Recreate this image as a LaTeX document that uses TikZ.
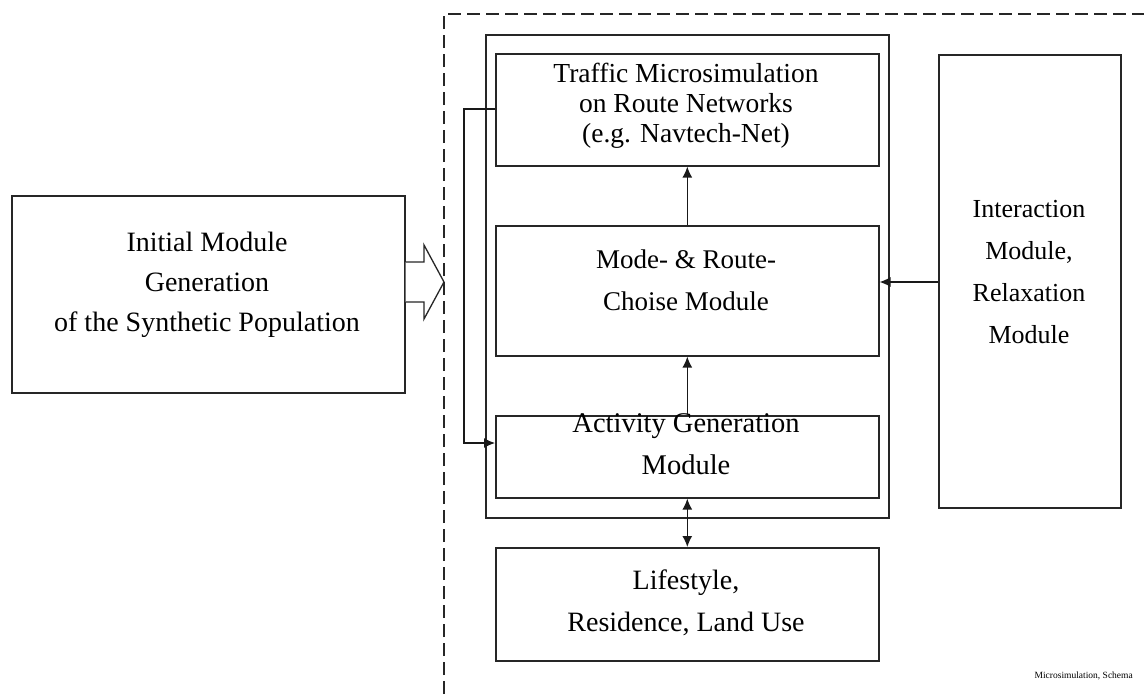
\documentclass[tikz,border=0pt]{standalone}
\usepackage{fontspec}
\setmainfont{Liberation Serif}
\usetikzlibrary{arrows.meta}
\begin{document}
\begin{tikzpicture}[x=1pt,y=1pt,
  box/.style={draw=black!85, line width=1.6pt, inner sep=0pt, anchor=north west},
  lbl/.style={align=center, font=\fontsize{27}{42}\selectfont, inner sep=0pt},
  conn/.style={draw=black!90, line width=1.3pt},
  arr/.style={conn, -{Latex[length=11pt,width=10pt]}},
  darr/.style={conn, {Latex[length=11pt,width=10pt]}-{Latex[length=11pt,width=10pt]}},
  frame/.style={draw=black!85, line width=1.6pt, dash pattern=on 13pt off 6pt}]
\useasboundingbox (0,0) rectangle (1144,-694);
% dashed boundary
\coordinate (dtop) at (444,-14);
\coordinate (dbot) at (444,-694);
\coordinate (dright) at (1144,-14);
\draw[frame] (dbot) -- (dtop) -- (dright);
% boxes
\node[box, minimum width=393pt, minimum height=197pt] (initial) at (11,-195) {};
\node[box, minimum width=403pt, minimum height=483pt] (outer) at (485,-34) {};
\node[box, minimum width=383pt, minimum height=112pt] (traffic) at (495,-53) {};
\node[box, minimum width=383pt, minimum height=130pt] (mode) at (495,-225) {};
\node[box, minimum width=383pt, minimum height=82pt] (activity) at (495,-415) {};
\node[box, minimum width=383pt, minimum height=113pt] (life) at (495,-547) {};
\node[box, minimum width=182pt, minimum height=453pt] (inter) at (938,-54) {};
% labels
\node[lbl, font=\fontsize{28}{40}\selectfont] (initialT) at (207,-285) {Initial Module\\Generation\\of the Synthetic Population};
\node[lbl, font=\fontsize{27.5}{30}\selectfont] (trafficT) at (686,-106) {Traffic Microsimulation\\on Route Networks\\(e.g. Navtech-Net)};
\node[lbl] (modeT) at (686,-280) {Mode- \& Route-\\Choise Module};
\node[lbl, font=\fontsize{28.5}{42}\selectfont] (activityT) at (686,-444) {Activity Generation\\Module};
\node[lbl, font=\fontsize{28}{42}\selectfont] (lifeT) at (686,-603) {Lifestyle,\\Residence, Land Use};
\node[lbl, font=\fontsize{26}{42}\selectfont] (interT) at (1029,-272) {Interaction\\Module,\\Relaxation\\Module};
\node[font=\fontsize{9.5}{11}\selectfont, anchor=south east, inner sep=0pt] (caption) at (1133,-680) {Microsimulation, Schema};
% open block arrow
\draw[line width=1.3pt, draw=black!85, fill=white]
  (initial.east |- 0,-262) -- (424,-262) -- (424,-245) -- (444,-282)
  -- (424,-319) -- (424,-302) -- (initial.east |- 0,-302);
% connectors
\draw[arr] (mode.north) -- (traffic.south);
\draw[arr] (activity.north) -- (mode.south);
\draw[darr] (activity.south) -- (life.north);
\coordinate (ia) at (0,-282);
\draw[arr] (inter.west |- ia) -- (mode.east |- ia);
\coordinate (fb1) at (464,-109);
\coordinate (fb2) at (464,-443);
\draw[arr] (traffic.west |- fb1) -- (fb1) -- (fb2) -- (activity.west |- fb2);
\end{tikzpicture}
\end{document}
